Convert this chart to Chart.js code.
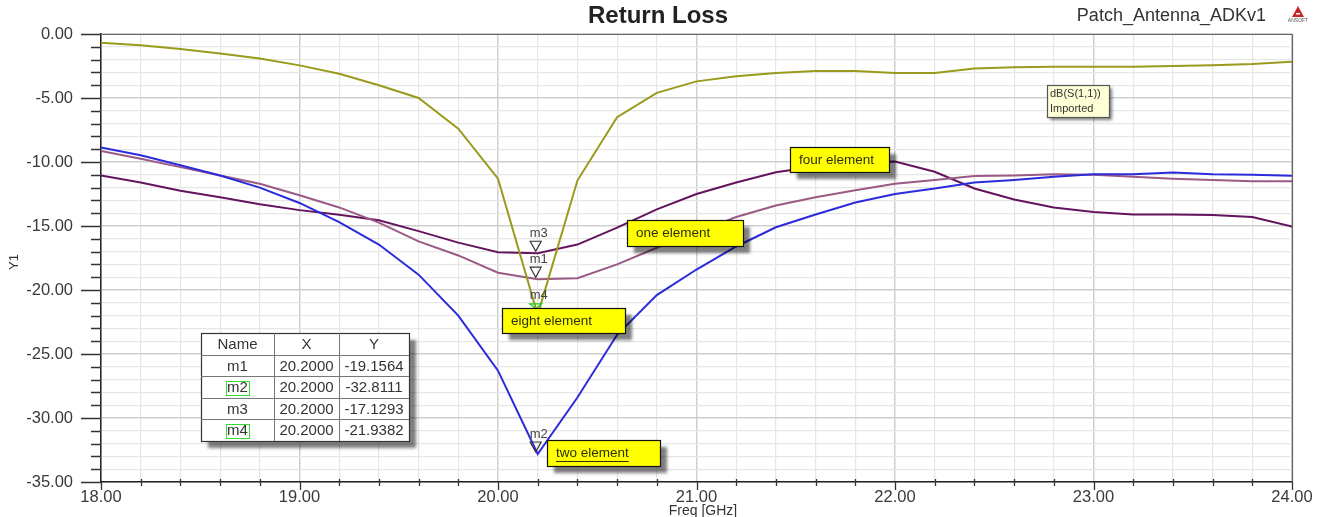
<!DOCTYPE html>
<html>
<head>
<meta charset="utf-8">
<title>Return Loss</title>
<script src="https://cdn.jsdelivr.net/npm/chart.js@4.4.1/dist/chart.umd.min.js"></script>
<style>
  body { margin: 0; background: #fff; }
  canvas { display: block; }
</style>
</head>
<body>
<canvas id="rlChart" width="1323" height="517"></canvas>
<script>
// frequency sweep [GHz]
const freq = [18.0, 18.2, 18.4, 18.6, 18.8, 19.0, 19.2, 19.4, 19.6, 19.8,
              20.0, 20.2, 20.4, 20.6, 20.8, 21.0, 21.2, 21.4, 21.6, 21.8,
              22.0, 22.2, 22.4, 22.6, 22.8, 23.0, 23.2, 23.4, 23.6, 23.8, 24.0];

// dB(S(1,1))
const oneElement = [-9.13, -9.74, -10.4, -11.05, -11.7, -12.6, -13.55, -14.74, -16.2, -17.3,
                    -18.65, -19.16, -19.08, -18.0, -16.7, -15.5, -14.3, -13.4, -12.76, -12.2,
                    -11.7, -11.4, -11.1, -11.05, -10.96, -11.0, -11.15, -11.3, -11.4, -11.5, -11.5];
const twoElement = [-8.87, -9.47, -10.26, -11.05, -12.0, -13.2, -14.7, -16.45, -18.8, -22.0,
                    -26.3, -32.81, -28.4, -23.5, -20.4, -18.4, -16.6, -15.1, -14.1, -13.16,
                    -12.5, -12.07, -11.6, -11.4, -11.15, -10.96, -10.96, -10.83, -10.96, -11.0, -11.07];
const fourElement = [-11.05, -11.6, -12.24, -12.76, -13.3, -13.76, -14.13, -14.55, -15.4, -16.3,
                     -17.05, -17.13, -16.45, -15.13, -13.7, -12.5, -11.6, -10.8, -10.35, -10.05,
                     -9.97, -10.76, -12.07, -12.93, -13.56, -13.9, -14.1, -14.1, -14.15, -14.3, -15.05];
const eightElement = [-0.68, -0.87, -1.18, -1.53, -1.92, -2.45, -3.1, -4.0, -5.0, -7.4,
                      -11.3, -21.94, -11.45, -6.5, -4.6, -3.7, -3.3, -3.05, -2.9, -2.9,
                      -3.05, -3.05, -2.7, -2.6, -2.55, -2.55, -2.55, -2.5, -2.45, -2.35, -2.16];

const seriesNames = ['one element', 'two element', 'four element', 'eight element'];

// marker table
const markerNames = ['m1', 'm2', 'm3', 'm4'];
const markerX = [20.2, 20.2, 20.2, 20.2];
const markerY = [-19.1564, -32.8111, -17.1293, -21.9382];

const toPoints = arr => arr.map((v, i) => ({ x: freq[i], y: v }));
const isWhole = (v, step) => Math.abs(v / step - Math.round(v / step)) < 1e-6;

const TXT = '#3a3a3a';
const FONT = '"Liberation Sans", Arial, sans-serif';

function shadowBox(ctx, x, y, w, h, fill, border, off) {
    ctx.save();
    ctx.shadowColor = 'rgba(0,0,0,0.5)';
    ctx.shadowOffsetX = off;
    ctx.shadowOffsetY = off;
    ctx.shadowBlur = 3;
    ctx.fillStyle = fill;
    ctx.fillRect(x, y, w, h);
    ctx.restore();
    ctx.strokeStyle = border;
    ctx.lineWidth = 1.2;
    ctx.strokeRect(x + 0.5, y + 0.5, w, h);
}

const decorPlugin = {
    id: 'decor',
    afterDraw(chart) {
        const ctx = chart.ctx;
        const xs = chart.scales.x, ys = chart.scales.y;
        const a = chart.chartArea;
        ctx.save();

        // frame top / right
        ctx.strokeStyle = '#666';
        ctx.lineWidth = 1.2;
        ctx.beginPath();
        ctx.moveTo(81, a.top + 0.5); ctx.lineTo(a.right, a.top + 0.5);
        ctx.moveTo(a.right + 0.5, a.top); ctx.lineTo(a.right + 0.5, a.bottom);
        ctx.stroke();

        // axis ticks
        ctx.strokeStyle = '#333';
        ctx.lineWidth = 1.3;
        ctx.beginPath();
        for (let v = 0; v >= -35; v--) {
            const py = Math.round(ys.getPixelForValue(v)) + 0.5;
            const len = (v % 5 === 0) ? 20 : 10;
            ctx.moveTo(a.left - len, py); ctx.lineTo(a.left, py);
        }
        for (let k = 0; k <= 30; k++) {
            const f = 18 + k * 0.2;
            const px = Math.round(xs.getPixelForValue(f)) + 0.5;
            if (k % 5 === 0) { ctx.moveTo(px, a.bottom); ctx.lineTo(px, a.bottom + 8); }
            else { ctx.moveTo(px, a.bottom - 3); ctx.lineTo(px, a.bottom + 4); }
        }
        ctx.stroke();

        // titles
        ctx.fillStyle = '#222';
        ctx.textAlign = 'center';
        ctx.textBaseline = 'middle';
        ctx.font = 'bold 24px ' + FONT;
        ctx.fillText('Return Loss', 658, 16);
        ctx.font = '18px ' + FONT;
        ctx.fillStyle = '#333';
        ctx.textAlign = 'right';
        ctx.fillText('Patch_Antenna_ADKv1', 1266, 16);
        // ansoft logo
        ctx.fillStyle = '#c62828';
        ctx.beginPath();
        ctx.moveTo(1298, 6); ctx.lineTo(1304, 17); ctx.lineTo(1292, 17); ctx.closePath();
        ctx.fill();
        ctx.fillStyle = '#fff';
        ctx.fillRect(1296, 13, 4, 1.5);
        ctx.fillStyle = '#555';
        ctx.font = '5px ' + FONT;
        ctx.textAlign = 'center';
        ctx.fillText('ANSOFT', 1298, 21);

        // axis titles
        ctx.fillStyle = '#333';
        ctx.font = '14px ' + FONT;
        ctx.fillText('Freq [GHz]', 703, 511);
        ctx.save();
        ctx.translate(14, 262);
        ctx.rotate(-Math.PI / 2);
        ctx.font = '13px ' + FONT;
        ctx.fillText('Y1', 0, 0);
        ctx.restore();

        // trace legend
        shadowBox(ctx, 1047, 85, 62, 32, '#ffffd6', '#555', 3);
        ctx.fillStyle = '#333';
        ctx.textAlign = 'left';
        ctx.font = '11px ' + FONT;
        ctx.fillText('dB(S(1,1))', 1050, 94);
        ctx.fillText('Imported', 1050, 109);

        // markers on traces
        const mOrder = [2, 0, 3, 1];
        mOrder.forEach(i => {
            const px = xs.getPixelForValue(markerX[i]) - 2;
            const py = ys.getPixelForValue(markerY[i]);
            const green = (i === 3);
            const tw = green ? 12 : 11, th = green ? 5 : 10;
            const tipY = green ? py - 6 : py - 2;
            ctx.strokeStyle = green ? '#22cc22' : '#333';
            ctx.lineWidth = 1.2;
            ctx.beginPath();
            ctx.moveTo(px - tw / 2, tipY - th);
            ctx.lineTo(px + tw / 2, tipY - th);
            ctx.lineTo(px, tipY);
            ctx.closePath();
            ctx.stroke();
            if (green) {
                ctx.fillStyle = '#e53935';
                ctx.beginPath();
                ctx.arc(px, py - 3, 2, 0, Math.PI * 2);
                ctx.fill();
            }
            ctx.fillStyle = '#444';
            ctx.font = '13px ' + FONT;
            ctx.textAlign = 'center';
            ctx.fillText(markerNames[i], px + 3, tipY - th - 8);
        });

        // annotation boxes
        const notes = [
            { t: seriesNames[2], fx: 21.47, fy: -8.83, w: 99, h: 25, u: false },
            { t: seriesNames[0], fx: 20.65, fy: -14.5, w: 116, h: 26, u: false },
            { t: seriesNames[3], fx: 20.02, fy: -21.4, w: 123, h: 25, u: false },
            { t: seriesNames[1], fx: 20.247, fy: -31.72, w: 113, h: 26, u: true }
        ];
        notes.forEach(n => {
            const x = Math.round(xs.getPixelForValue(n.fx));
            const y = Math.round(ys.getPixelForValue(n.fy));
            shadowBox(ctx, x, y, n.w, n.h, '#ffff00', '#111', 7);
            ctx.fillStyle = '#2e2e10';
            ctx.font = '13.5px ' + FONT;
            ctx.textAlign = 'left';
            ctx.fillText(n.t, x + 9, y + n.h / 2 + 0.5);
            if (n.u) {
                const tw = ctx.measureText(n.t).width;
                ctx.strokeStyle = '#2e2e10';
                ctx.lineWidth = 1;
                ctx.beginPath();
                ctx.moveTo(x + 9, y + n.h / 2 + 8.5);
                ctx.lineTo(x + 9 + tw, y + n.h / 2 + 8.5);
                ctx.stroke();
            }
        });

        // marker table
        const tx = 201, ty = 333;
        const colW = [73, 65, 70];
        const rowH = 21.6;
        const tw = colW.reduce((s, v) => s + v, 0);
        const th = rowH * 5;
        shadowBox(ctx, tx, ty, tw, th, '#fff', '#333', 7);
        ctx.strokeStyle = '#777';
        ctx.lineWidth = 1;
        ctx.beginPath();
        let cx = tx;
        for (let c = 0; c < 2; c++) {
            cx += colW[c];
            ctx.moveTo(Math.round(cx) + 0.5, ty); ctx.lineTo(Math.round(cx) + 0.5, ty + th);
        }
        for (let r = 1; r < 5; r++) {
            const ry = Math.round(ty + r * rowH) + 0.5;
            ctx.moveTo(tx, ry); ctx.lineTo(tx + tw, ry);
        }
        ctx.stroke();
        ctx.fillStyle = '#333';
        ctx.font = '15px ' + FONT;
        ctx.textAlign = 'center';
        const cols = [tx + colW[0] / 2, tx + colW[0] + colW[1] / 2, tx + colW[0] + colW[1] + colW[2] / 2];
        const head = ['Name', 'X', 'Y'];
        head.forEach((h, c) => ctx.fillText(h, cols[c], ty + rowH / 2 + 1));
        markerNames.forEach((m, i) => {
            const ry = ty + (i + 1) * rowH + rowH / 2 + 1;
            ctx.fillStyle = '#333';
            ctx.fillText(m, cols[0], ry);
            ctx.fillText(markerX[i].toFixed(4), cols[1], ry);
            ctx.fillText(markerY[i].toFixed(4), cols[2], ry);
            if (i === 1 || i === 3) {
                const w = ctx.measureText(m).width;
                ctx.strokeStyle = '#33dd33';
                ctx.lineWidth = 1;
                ctx.strokeRect(Math.round(cols[0] - w / 2 - 1) + 0.5, Math.round(ry - 7) + 0.5, Math.round(w + 2), 14);
            }
        });

        ctx.restore();
    }
};

const ctx = document.getElementById('rlChart').getContext('2d');
const rlChart = new Chart(ctx, {
    type: 'line',
    data: {
        datasets: [
            { label: seriesNames[3], data: toPoints(eightElement), borderColor: '#9a9a1c' },
            { label: seriesNames[1], data: toPoints(twoElement), borderColor: '#2b2bdc' },
            { label: seriesNames[0], data: toPoints(oneElement), borderColor: '#9a5a85' },
            { label: seriesNames[2], data: toPoints(fourElement), borderColor: '#64145f' }
        ]
    },
    options: {
        responsive: false,
        animation: false,
        devicePixelRatio: 1,
        layout: { padding: { top: 34, right: 31, bottom: 0, left: 0 } },
        elements: {
            line: { borderWidth: 2, tension: 0, fill: false },
            point: { radius: 0 }
        },
        plugins: {
            legend: { display: false },
            title: { display: false },
            tooltip: { enabled: false }
        },
        scales: {
            x: {
                type: 'linear',
                min: 18,
                max: 24,
                afterFit: s => { s.height = 35; s.paddingLeft = 0; s.paddingRight = 0; },
                border: { color: '#222', width: 1.5 },
                grid: {
                    drawTicks: false,
                    color: c => isWhole(c.tick.value, 1) ? '#cfcfcf' : '#e6e6e6',
                    lineWidth: c => isWhole(c.tick.value, 1) ? 1.5 : 1.2
                },
                ticks: {
                    stepSize: 0.2,
                    autoSkip: false,
                    maxRotation: 0,
                    padding: 6,
                    color: TXT,
                    font: { family: FONT, size: 16.5 },
                    callback: v => isWhole(v, 1) ? Number(v).toFixed(2) : ''
                }
            },
            y: {
                type: 'linear',
                min: -35,
                max: 0,
                afterFit: s => { s.width = 101; s.paddingTop = 0; s.paddingBottom = 0; },
                border: { color: '#222', width: 1.5 },
                grid: {
                    drawTicks: false,
                    color: c => isWhole(c.tick.value, 5) ? '#cfcfcf' : '#e6e6e6',
                    lineWidth: c => isWhole(c.tick.value, 5) ? 1.5 : 1.2
                },
                ticks: {
                    stepSize: 1,
                    autoSkip: false,
                    padding: 28,
                    color: TXT,
                    font: { family: FONT, size: 16.5 },
                    callback: v => isWhole(v, 5) ? Number(v).toFixed(2) : ''
                }
            }
        }
    },
    plugins: [decorPlugin]
});
</script>
</body>
</html>
